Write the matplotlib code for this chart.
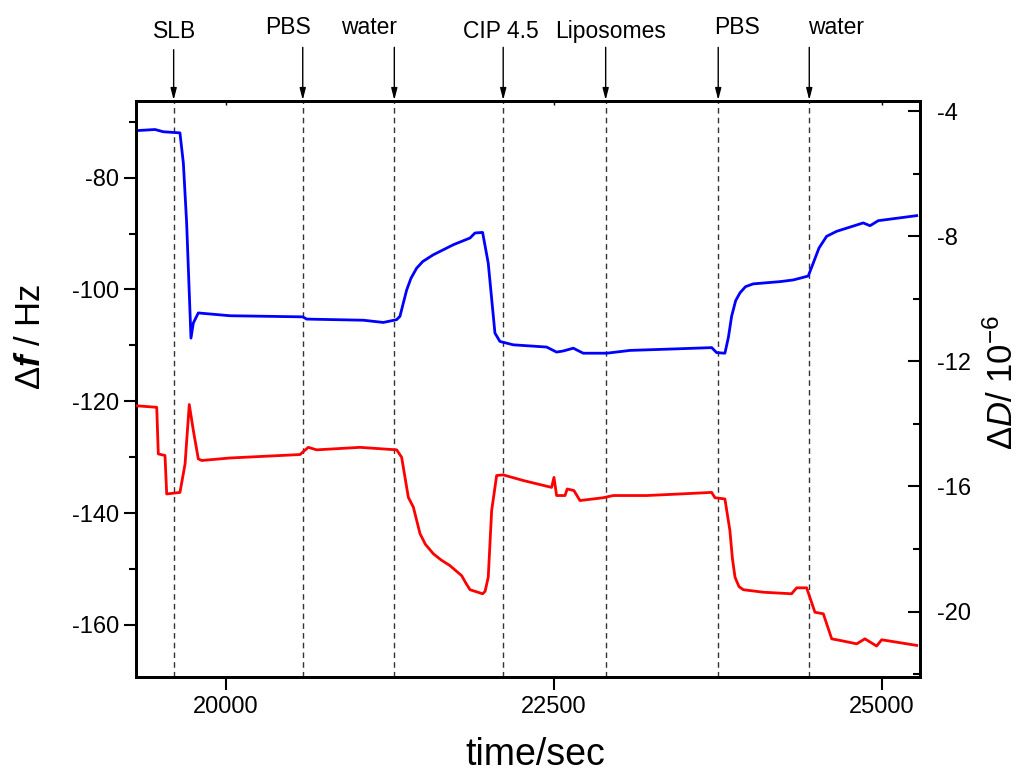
"""
QCM-D trace - frequency and dissipation shifts vs time
with the injection steps marked on top
"""
import matplotlib
matplotlib.use("Agg")
import matplotlib.pyplot as plt
from matplotlib.ticker import MultipleLocator

plt.rcParams["font.family"] = ["Liberation Sans", "DejaVu Sans"]
plt.rcParams["axes.unicode_minus"] = False
plt.rcParams["mathtext.fontset"] = "custom"
plt.rcParams["mathtext.rm"] = "Liberation Sans"
plt.rcParams["mathtext.it"] = "Liberation Sans:italic"
plt.rcParams["mathtext.bf"] = "Liberation Sans:bold"
plt.rcParams["mathtext.bfit"] = "Liberation Sans:italic:bold"

# frequency shift (blue, left axis)
df_time = [19314, 19459, 19522, 19649, 19675, 19700, 19733, 19751, 19789, 20030,
           20585, 20615, 21047, 21199, 21301, 21326, 21377, 21410, 21453, 21500,
           21580, 21733, 21860, 21898, 21956, 21999, 22050, 22088, 22190, 22444,
           22520, 22571, 22647, 22723, 22902, 23079, 23460, 23702, 23740, 23803,
           23830, 23854, 23885, 23918, 23960, 24019, 24223, 24324, 24438, 24476,
           24520, 24578, 24655, 24857, 24909, 24972, 25265]
df_hz = [-71.6, -71.4, -71.8, -72.0, -77.4, -88.1, -108.7, -106.0, -104.2, -104.7,
         -104.9, -105.3, -105.5, -105.9, -105.4, -104.8, -100.1, -98.0, -96.2, -95.0,
         -93.8, -92.0, -90.8, -89.9, -89.8, -95.3, -107.8, -109.3, -109.9, -110.3,
         -111.2, -111.0, -110.5, -111.4, -111.4, -110.9, -110.6, -110.4, -111.3, -111.4,
         -108.5, -104.8, -102.0, -100.6, -99.5, -99.0, -98.6, -98.3, -97.6, -95.3,
         -92.6, -90.5, -89.6, -88.1, -88.6, -87.7, -86.8]

# dissipation shift (red, right axis), units of 1e-6
dd_time = [19314, 19472, 19484, 19535, 19548, 19649, 19688, 19720, 19751, 19789,
           19815, 20030, 20564, 20627, 20691, 21021, 21301, 21339, 21390, 21428,
           21479, 21520, 21580, 21640, 21707, 21796, 21830, 21860, 21956, 21975,
           21999, 22025, 22063, 22113, 22266, 22482, 22500, 22520, 22584, 22601,
           22652, 22698, 22876, 22952, 23206, 23460, 23702, 23727, 23803, 23841,
           23860, 23880, 23910, 23943, 24095, 24311, 24350, 24426, 24489, 24553,
           24617, 24680, 24807, 24870, 24959, 24998, 25265]
dd_val = [-13.42, -13.47, -14.96, -15.01, -16.24, -16.19, -15.28, -13.38, -14.21, -15.12,
          -15.17, -15.09, -14.98, -14.75, -14.83, -14.75, -14.83, -15.07, -16.35, -16.66,
          -17.51, -17.85, -18.15, -18.35, -18.53, -18.85, -19.10, -19.30, -19.43, -19.35,
          -18.90, -16.77, -15.65, -15.63, -15.81, -16.03, -15.71, -16.29, -16.29, -16.08,
          -16.13, -16.45, -16.36, -16.29, -16.29, -16.24, -16.19, -16.36, -16.40, -17.41,
          -18.30, -18.90, -19.20, -19.30, -19.38, -19.43, -19.24, -19.24, -20.02, -20.07,
          -20.87, -20.92, -21.03, -20.87, -21.10, -20.90, -21.08]

# injection steps
event_time = [19601, 20585, 21283, 22113, 22894, 23752, 24446]
event_label = ["SLB", "PBS", "water", "CIP 4.5", "Liposomes", "PBS", "water"]
label_x = [19611, 20473, 21090, 22096, 22934, 23895, 24649]
label_y = [0.959, 0.964, 0.964, 0.959, 0.959, 0.964, 0.964]
arrow_top = [0.936, 0.939, 0.939, 0.939, 0.939, 0.939, 0.939]

fig = plt.figure(figsize=(10.24, 7.76), dpi=100)
ax = fig.add_axes([136/1024, 99/776, 784/1024, 576/776])
ax2 = ax.twinx()

for t in event_time:
    ax.axvline(t, color="#333333", lw=1.0, ls=(0, (4, 3)), zorder=1)

ax.plot(df_time, df_hz, color="#0000ff", lw=2.0, zorder=3)
ax2.plot(dd_time, dd_val, color="#ff0000", lw=2.0, zorder=3)

ax.set_xlim(19314, 25290)
ax.set_ylim(-169.3, -66.3)
ax2.set_ylim(-22.09, -3.68)

ax.set_xticks([20000, 22500, 25000])
ax.yaxis.set_major_locator(MultipleLocator(20))
ax.yaxis.set_minor_locator(MultipleLocator(10))
ax2.yaxis.set_major_locator(MultipleLocator(4))
ax2.yaxis.set_minor_locator(MultipleLocator(2))

ax.tick_params(axis="y", which="major", direction="out", length=9, width=1.5,
               labelsize=17, pad=3)
ax.tick_params(axis="y", which="minor", direction="out", length=5, width=1.5)
ax.tick_params(axis="x", which="major", direction="out", length=9, width=1.5,
               labelsize=17, pad=5, top=False)
ax2.tick_params(axis="y", which="major", direction="in", length=9, width=1.5,
                labelsize=17, pad=12)
ax2.tick_params(axis="y", which="minor", direction="in", length=5, width=1.5)

# small inward marks on top spine
secx = ax.secondary_xaxis("top")
secx.set_xticks([20000, 22500, 25000])
secx.tick_params(direction="in", length=3, width=1, labeltop=False)
secx.spines["top"].set_visible(False)

for a in (ax, ax2):
    for s in a.spines.values():
        s.set_linewidth(2)

# arrows and labels for the injections
for t, lab, lx, ly, y0 in zip(event_time, event_label, label_x, label_y, arrow_top):
    ax.annotate("", xy=(t, 0.871), xycoords=("data", "figure fraction"),
                xytext=(t, y0), textcoords=("data", "figure fraction"),
                arrowprops=dict(arrowstyle="-|>,head_length=0.7,head_width=0.18",
                                color="black", lw=1.0, shrinkA=0, shrinkB=0),
                annotation_clip=False)
    ax.annotate(lab, xy=(lx, ly), xycoords=("data", "figure fraction"),
                ha="center", va="center", fontsize=16.5, annotation_clip=False)

fig.text(30/1024, 439/776, r"$\mathit{\Delta}\mathbfit{f}$ / Hz", rotation=90,
         ha="center", va="center", fontsize=25)
fig.text(1003/1024, 394/776, r"$\mathit{\Delta D}$/ 10$^{-6}$", rotation=90,
         ha="center", va="center", fontsize=25)
fig.text(535/1024, 21/776, "time/sec", ha="center", va="center", fontsize=27)

fig.savefig("out.png", dpi=100)
plt.close(fig)
